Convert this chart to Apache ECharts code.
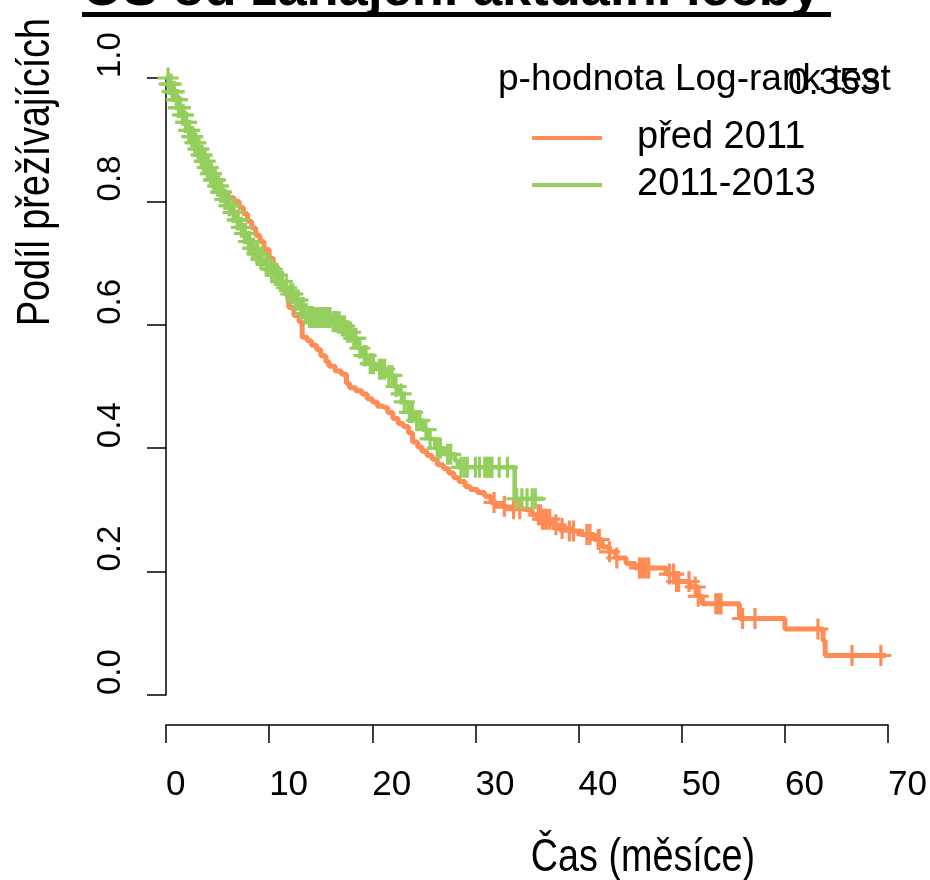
<!DOCTYPE html>
<html>
<head>
<meta charset="utf-8">
<title>OS od zahájení aktuální léčby</title>
<script src="https://cdn.jsdelivr.net/npm/echarts@6/dist/echarts.min.js"></script>
<style>
  html, body { margin: 0; padding: 0; background: #fff; }
  #chart { width: 930px; height: 880px; }
</style>
</head>
<body>
<div id="chart"></div>
<script>
// Kaplan-Meier estimates: event times (months) and survival after each event
const orangeName = 'před 2011';
const orangeTimes = [0, 0.3, 0.6, 0.9, 1.2, 1.5, 1.8, 2.1, 2.5, 2.9, 3.3, 3.7, 4.1, 4.6, 5.0, 5.5, 6.0, 6.6, 7.1, 7.5, 7.9, 8.3, 8.7, 9.1, 9.5, 10.0, 10.4, 10.8, 11.2, 11.6, 11.9, 12.4, 12.9, 13.2, 13.7, 14.1, 14.6, 15.0, 15.5, 15.8, 16.4, 17.0, 17.5, 17.8, 18.4, 19.0, 19.5, 20.0, 20.5, 21.0, 21.5, 22.0, 22.5, 23.0, 23.5, 23.9, 24.4, 24.8, 25.3, 25.8, 26.3, 26.9, 27.4, 27.9, 28.4, 29.0, 29.5, 30.2, 30.9, 31.5, 32.0, 33.0, 34.5, 35.5, 36.5, 37.5, 38.0, 39.0, 40.2, 41.5, 42.3, 43.0, 43.6, 44.6, 45.5, 48.5, 49.5, 50.8, 51.6, 52.0, 55.6, 60.0, 63.7, 63.9, 69.8];
const orangeSurv  = [1.0, 0.99, 0.98, 0.97, 0.955, 0.945, 0.93, 0.915, 0.895, 0.88, 0.87, 0.85, 0.84, 0.83, 0.82, 0.812, 0.806, 0.80, 0.79, 0.78, 0.768, 0.757, 0.745, 0.735, 0.722, 0.708, 0.695, 0.68, 0.665, 0.65, 0.628, 0.615, 0.605, 0.58, 0.574, 0.567, 0.56, 0.55, 0.54, 0.533, 0.525, 0.52, 0.505, 0.498, 0.493, 0.488, 0.48, 0.475, 0.468, 0.465, 0.458, 0.448, 0.44, 0.435, 0.425, 0.41, 0.402, 0.395, 0.388, 0.382, 0.373, 0.367, 0.36, 0.352, 0.346, 0.338, 0.333, 0.328, 0.322, 0.312, 0.306, 0.302, 0.299, 0.292, 0.285, 0.276, 0.27, 0.266, 0.26, 0.252, 0.24, 0.232, 0.222, 0.213, 0.206, 0.196, 0.184, 0.175, 0.16, 0.148, 0.124, 0.107, 0.088, 0.064, 0.064];
const orangeCensor = [31.8, 32.8, 33.7, 34.3, 36.1, 36.3, 36.5, 36.7, 36.9, 37.2, 37.8, 38.4, 39.1, 39.5, 40.8, 41.1, 41.9, 42.0, 43.0, 43.7, 45.9, 46.2, 46.5, 46.8, 48.8, 49.2, 49.5, 49.7, 50.7, 51.3, 51.6, 53.3, 53.5, 53.7, 53.8, 55.9, 57.1, 63.2, 66.5, 69.3];

const greenName = '2011-2013';
const greenTimes = [0, 0.3, 0.6, 0.9, 1.2, 1.5, 1.8, 2.1, 2.4, 2.7, 3.0, 3.3, 3.6, 3.9, 4.2, 4.5, 4.9, 5.2, 5.6, 6.0, 6.4, 6.8, 7.1, 7.4, 7.8, 8.2, 8.6, 9.0, 9.5, 10.0, 10.5, 11.0, 11.5, 11.9, 12.4, 12.9, 13.4, 13.8, 16.0, 16.9, 17.4, 18.0, 18.6, 19.0, 19.6, 20.4, 21.4, 22.1, 22.6, 23.0, 23.5, 24.2, 24.9, 25.5, 26.1, 27.0, 28.0, 28.3, 33.8, 36.6];
const greenSurv  = [1.0, 0.99, 0.978, 0.965, 0.952, 0.94, 0.928, 0.915, 0.905, 0.895, 0.885, 0.875, 0.865, 0.855, 0.845, 0.835, 0.825, 0.815, 0.803, 0.793, 0.782, 0.77, 0.758, 0.748, 0.735, 0.724, 0.715, 0.706, 0.698, 0.69, 0.68, 0.67, 0.66, 0.65, 0.64, 0.628, 0.618, 0.612, 0.605, 0.598, 0.588, 0.578, 0.562, 0.55, 0.537, 0.528, 0.518, 0.50, 0.488, 0.475, 0.458, 0.445, 0.43, 0.415, 0.40, 0.39, 0.38, 0.369, 0.318, 0.318];
const greenCensor = [0.2, 0.3, 0.5, 0.6, 0.7, 0.8, 1.0, 1.1, 1.2, 1.3, 1.4, 1.6, 1.7, 1.9, 2.0, 2.2, 2.3, 2.5, 2.6, 2.8, 2.9, 3.1, 3.2, 3.4, 3.5, 3.7, 3.8, 4.0, 4.1, 4.3, 4.4, 4.6, 4.7, 4.8, 5.0, 5.1, 5.3, 5.4, 5.7, 5.8, 6.1, 6.2, 6.5, 6.6, 6.9, 7.0, 7.3, 7.6, 7.7, 8.0, 8.1, 8.4, 8.5, 8.8, 8.9, 9.2, 9.3, 9.7, 9.9, 10.2, 10.3, 10.6, 10.8, 11.1, 11.3, 11.7, 12.1, 12.3, 12.6, 12.8, 13.1, 13.3, 13.5, 13.6, 13.9, 14.1, 14.3, 14.5, 14.6, 14.8, 15.0, 15.1, 15.3, 15.5, 15.7, 15.9, 16.2, 16.4, 16.6, 16.8, 17.1, 17.3, 17.6, 17.9, 18.2, 18.4, 18.8, 19.2, 19.4, 19.8, 20.1, 20.7, 20.9, 21.2, 21.6, 21.9, 22.3, 22.8, 23.1, 23.6, 23.9, 24.3, 24.6, 25.2, 25.6, 26.3, 26.6, 27.3, 27.6, 28.6, 28.9, 29.2, 30.0, 30.4, 30.9, 31.1, 31.3, 31.5, 31.6, 32.3, 33.1, 34.0, 34.5, 35.0, 35.5, 35.8];

const pValueText = '0.353';

const ORANGE = '#ff8b55';
const GREEN = '#94cf5e';
const SANS = '"Liberation Sans", Arial, sans-serif';

// survival value holding at time t (right-continuous step function)
function survivalAt(times, surv, t) {
  let s = surv[0];
  for (let i = 0; i < times.length; i++) {
    if (times[i] <= t) s = surv[i]; else break;
  }
  return s;
}

const stepData = (times, surv) => times.map((t, i) => [t, surv[i]]);
const censorData = (times, surv, cens) => cens.map(t => [t, survivalAt(times, surv, t)]);

// "+" marks for censored observations
const PLUS = 'path://M8.5,0h3v20h-3zM0,8.5h20v3h-20z';

const chart = echarts.init(document.getElementById('chart'), null, { renderer: 'canvas' });

chart.setOption({
  animation: false,
  backgroundColor: '#ffffff',
  grid: { left: 166, right: 36, top: 78, bottom: 185, containLabel: false },
  xAxis: {
    type: 'value', min: 0, max: 70, interval: 10,
    offset: 30,
    axisLine: { show: true, onZero: false, lineStyle: { color: '#000', width: 1.5 } },
    axisTick: { show: true, length: 18, lineStyle: { color: '#000', width: 1.5 } },
    axisLabel: {
      show: true, align: 'left', margin: 43, color: '#000',
      fontFamily: SANS, fontSize: 35,
      showMinLabel: true, showMaxLabel: true, hideOverlap: false
    },
    splitLine: { show: false }
  },
  yAxis: {
    type: 'value', min: 0, max: 1, interval: 0.2,
    axisLine: { show: true, onZero: false, lineStyle: { color: '#000', width: 1.5 } },
    axisTick: { show: true, length: 19, lineStyle: { color: '#000', width: 1.5 } },
    axisLabel: {
      show: true, rotate: 90, align: 'left', verticalAlign: 'middle', margin: 55,
      color: '#000', fontFamily: SANS, fontSize: 33,
      formatter: v => v.toFixed(1),
      showMinLabel: true, showMaxLabel: true, hideOverlap: false
    },
    splitLine: { show: false }
  },
  legend: {
    orient: 'vertical', left: 532, top: 117, padding: 0,
    itemWidth: 70, itemHeight: 4, itemGap: 5, icon: 'rect',
    data: [orangeName, greenName],
    textStyle: { fontFamily: SANS, fontSize: 38, color: '#000', lineHeight: 42, padding: [0, 0, 0, 30] },
    selectedMode: false
  },
  series: [
    {
      name: orangeName, type: 'line', step: 'end',
      data: stepData(orangeTimes, orangeSurv),
      showSymbol: false, symbol: 'none',
      lineStyle: { color: ORANGE, width: 5 }, itemStyle: { color: ORANGE },
      z: 2
    },
    {
      name: orangeName + ' (cenzura)', type: 'scatter',
      data: censorData(orangeTimes, orangeSurv, orangeCensor),
      symbol: PLUS, symbolSize: 21,
      itemStyle: { color: ORANGE, opacity: 1 },
      z: 3
    },
    {
      name: greenName, type: 'line', step: 'end',
      data: stepData(greenTimes, greenSurv),
      showSymbol: false, symbol: 'none',
      lineStyle: { color: GREEN, width: 4.5 }, itemStyle: { color: GREEN },
      z: 4
    },
    {
      name: greenName + ' (cenzura)', type: 'scatter',
      data: censorData(greenTimes, greenSurv, greenCensor),
      symbol: PLUS, symbolSize: 21,
      itemStyle: { color: GREEN, opacity: 1 },
      z: 5
    }
  ],
  graphic: [
    {
      type: 'text', x: 82, y: -9, z: 10,
      style: { text: 'OS od zahájení aktuální léčby', font: 'bold 52.5px ' + SANS, fill: '#000',
               textAlign: 'left', textVerticalAlign: 'middle' }
    },
    { type: 'rect', z: 10, shape: { x: 82, y: 12, width: 749, height: 5 }, style: { fill: '#000' } },
    {
      type: 'text', x: 36, y: 172, rotation: Math.PI / 2, scaleX: 0.82, z: 10,
      style: { text: 'Podíl přežívajících', font: '46px ' + SANS, fill: '#000',
               textAlign: 'center', textVerticalAlign: 'middle' }
    },
    {
      type: 'text', x: 643, y: 858, scaleX: 0.82, z: 10,
      style: { text: 'Čas (měsíce)', font: '46px ' + SANS, fill: '#000',
               textAlign: 'center', textVerticalAlign: 'middle' }
    },
    {
      type: 'text', x: 498, y: 80, z: 10,
      style: { text: 'p-hodnota Log-rank test', font: '37px ' + SANS, fill: '#000',
               textAlign: 'left', textVerticalAlign: 'middle' }
    },
    {
      type: 'text', x: 788, y: 84, z: 10,
      style: { text: pValueText, font: '37px ' + SANS, fill: '#000',
               textAlign: 'left', textVerticalAlign: 'middle' }
    }
  ]
});
</script>
</body>
</html>
